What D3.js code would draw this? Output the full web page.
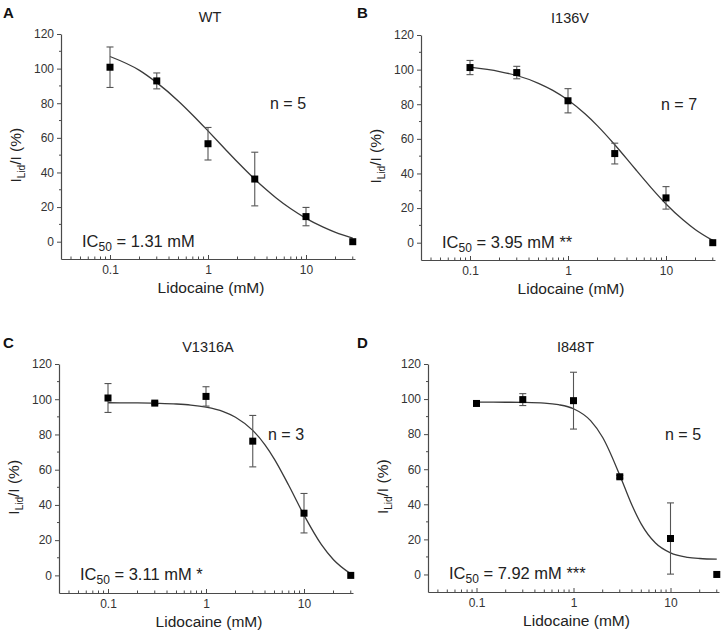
<!DOCTYPE html>
<html>
<head>
<meta charset="utf-8">
<script src="https://cdn.jsdelivr.net/npm/d3@7"></script>
<style>
  body { margin: 0; background: #fff; }
  svg { font-family: "Liberation Sans", Arial, sans-serif; }
</style>
</head>
<body>
<svg id="chart" width="726" height="635"></svg>
<script>
// lidocaine concentrations (mM)
var concs = [0.1, 0.3, 1, 3, 10, 30];

// mean I_Lid/I (%) and error per panel
var wtMean = [100.8, 92.9, 56.6, 36.2, 14.5, 0];
var wtErr = [11.7, 4.6, 9.4, 15.5, 5.3, 0];
var i136vMean = [101.2, 98.3, 82.0, 51.5, 25.9, 0];
var i136vErr = [4.1, 3.6, 7.0, 6.0, 6.5, 0];
var v1316aMean = [100.7, 97.8, 101.6, 76.2, 35.3, 0];
var v1316aErr = [8.2, 0.8, 5.5, 14.6, 11.2, 0];
var i848tMean = [97.5, 99.7, 99.1, 55.7, 20.5, 0];
var i848tErr = [1.0, 3.4, 16.2, 0.8, 20.3, 0];

// fitted dose-response curves, sampled at these concentrations
var fitConcs = [0.1, 0.2, 0.3, 0.5, 0.7, 1, 1.5, 2, 3, 4, 5, 7, 10, 15, 20, 30];
var wtFit = [107.0, 99.0, 91.9, 81.2, 73.1, 64.0, 53.4, 46.0, 36.1, 29.7, 25.1, 19.0, 13.5, 8.4, 5.4, 2.1];
var i136vFit = [101.4, 98.9, 96.6, 92.1, 88.0, 82.4, 74.3, 67.5, 56.6, 48.3, 41.7, 32.0, 22.4, 13.1, 7.5, 1.3];
var v1316aFit = [98.0, 97.9, 97.7, 97.3, 96.7, 95.5, 93.0, 89.8, 82.3, 74.1, 65.9, 51.0, 34.2, 17.6, 8.9, 0.9];
var i848tFit = [98.3, 98.2, 98.1, 97.7, 96.8, 94.5, 87.7, 78.1, 56.6, 39.6, 28.7, 17.9, 12.3, 9.8, 9.1, 8.7];

var titles = ["WT", "I136V", "V1316A", "I848T"];
var letters = ["A", "B", "C", "D"];
var nLabels = ["n = 5", "n = 7", "n = 3", "n = 5"];
var ic50Values = ["1.31", "3.95", "3.11", "7.92"];
var ic50Stars = ["", " **", " *", " ***"];

var yMajor = [0, 20, 40, 60, 80, 100, 120];
var yMinor = [10, 30, 50, 70, 90, 110];
var xLabels = {0.1: "0.1", 1: "1", 10: "10"};

var means = [wtMean, i136vMean, v1316aMean, i848tMean];
var errs = [wtErr, i136vErr, v1316aErr, i848tErr];
var fits = [wtFit, i136vFit, v1316aFit, i848tFit];

// panel frames (pixels)
var frames = [
    {left: 61, right: 355, top: 34, bottom: 259, ox: 0, oy: 0},
    {left: 421, right: 715, top: 35, bottom: 260, ox: 363, oy: 0},
    {left: 59, right: 353, top: 364, bottom: 593, ox: 0, oy: 330},
    {left: 428, right: 719, top: 364, bottom: 592, ox: 363, oy: 330}
];

var svg = d3.select("#chart");
var axisColor = "#4a4a4a";

frames.forEach(function (f, p) {
    var x = d3.scaleLog()
        .domain([Math.pow(10, -1.5), Math.pow(10, 1.5)])
        .range([f.left, f.right]);
    var y = d3.scaleLinear()
        .domain([-10, 120])
        .range([f.bottom, f.top]);

    var g = svg.append("g").attr("class", "panel");

    // panel letter + title
    g.append("text")
        .attr("x", f.ox + (p % 2 ? -6 : 3))
        .attr("y", f.oy + 18)
        .attr("font-size", 15)
        .attr("font-weight", "bold")
        .attr("fill", "#111")
        .text(letters[p]);
    g.append("text")
        .attr("x", (f.left + f.right) / 2 + 2)
        .attr("y", f.top - 12)
        .attr("text-anchor", "middle")
        .attr("font-size", 14.5)
        .attr("fill", "#222")
        .text(titles[p]);

    // x axis: ticks point inward
    var minor = x.ticks().filter(function (v) { return !xLabels[v]; });
    var xg = g.append("g").attr("transform", "translate(0," + f.bottom + ")");
    xg.call(d3.axisBottom(x)
        .tickValues([0.1, 1, 10])
        .tickSizeInner(-4)
        .tickSizeOuter(0)
        .tickPadding(6)
        .tickFormat(function (d) { return xLabels[d]; }));
    xg.selectAll(".minor").data(minor).enter().append("line")
        .attr("class", "minor")
        .attr("x1", function (d) { return x(d); })
        .attr("x2", function (d) { return x(d); })
        .attr("y1", 0).attr("y2", -2.5)
        .attr("stroke", axisColor);

    // y axis: ticks point outward
    var yg = g.append("g").attr("transform", "translate(" + f.left + ",0)");
    yg.call(d3.axisLeft(y)
        .tickValues(yMajor)
        .tickSizeInner(4)
        .tickSizeOuter(0)
        .tickPadding(3));
    yg.selectAll(".minor").data(yMinor).enter().append("line")
        .attr("class", "minor")
        .attr("x1", 0).attr("x2", -2)
        .attr("y1", function (d) { return y(d); })
        .attr("y2", function (d) { return y(d); })
        .attr("stroke", axisColor);

    [xg, yg].forEach(function (a) {
        a.select(".domain").attr("stroke", axisColor).attr("stroke-width", 1.2);
        a.selectAll(".tick line").attr("stroke", axisColor);
        a.selectAll(".tick text").attr("font-size", 12).attr("fill", "#333")
            .attr("font-family", "Liberation Sans, Arial, sans-serif");
    });

    // axis titles
    g.append("text")
        .attr("x", (f.left + f.right) / 2 + 3)
        .attr("y", f.bottom + 34)
        .attr("text-anchor", "middle")
        .attr("font-size", 15.5)
        .attr("fill", "#222")
        .text("Lidocaine (mM)");
    var yt = g.append("text")
        .attr("transform", "translate(" + (f.left - 40) + "," + y(50) + ") rotate(-90)")
        .attr("text-anchor", "middle")
        .attr("font-size", 15.5)
        .attr("fill", "#222");
    yt.append("tspan").text("I");
    yt.append("tspan").attr("font-size", 10).attr("dy", 4).text("Lid");
    yt.append("tspan").attr("dy", -4).text("/I (%)");

    // fitted curve
    var line = d3.line()
        .x(function (d, i) { return x(fitConcs[i]); })
        .y(function (d) { return y(d); })
        .curve(d3.curveMonotoneX);
    g.append("path")
        .datum(fits[p])
        .attr("d", line)
        .attr("fill", "none")
        .attr("stroke", "#3a3a3a")
        .attr("stroke-width", 1.3);

    // error bars
    concs.forEach(function (c, i) {
        var e = errs[p][i];
        if (!e) return;
        var m = means[p][i];
        var cx = x(c);
        var bar = g.append("g").attr("stroke", "#555").attr("stroke-width", 1.1);
        bar.append("line").attr("x1", cx).attr("x2", cx).attr("y1", y(m + e)).attr("y2", y(m - e));
        bar.append("line").attr("x1", cx - 3.5).attr("x2", cx + 3.5).attr("y1", y(m + e)).attr("y2", y(m + e));
        bar.append("line").attr("x1", cx - 3.5).attr("x2", cx + 3.5).attr("y1", y(m - e)).attr("y2", y(m - e));
    });

    // points
    g.append("g").selectAll("rect")
        .data(means[p])
        .enter().append("rect")
        .attr("x", function (d, i) { return x(concs[i]) - 3.5; })
        .attr("y", function (d) { return y(d) - 3.5; })
        .attr("width", 7)
        .attr("height", 7)
        .attr("fill", "#000");

    // annotations
    g.append("text")
        .attr("x", f.right - (p % 2 ? 54 : 85))
        .attr("y", y(80) + 6)
        .attr("font-size", 16)
        .attr("fill", "#222")
        .text(nLabels[p]);
    var ic = g.append("text")
        .attr("x", f.left + 21)
        .attr("y", y(0) + 5)
        .attr("font-size", 16.5)
        .attr("fill", "#222");
    ic.append("tspan").text("IC");
    ic.append("tspan").attr("font-size", 12).attr("dy", 4).text("50");
    ic.append("tspan").attr("dy", -4).text(" = " + ic50Values[p] + " mM" + ic50Stars[p]);
});
</script>
</body>
</html>
